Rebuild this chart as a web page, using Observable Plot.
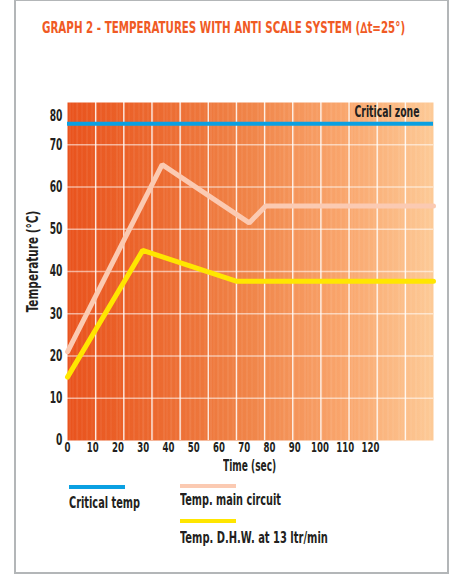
<!DOCTYPE html>
<html>
<head>
<meta charset="utf-8">
<script src="https://cdn.jsdelivr.net/npm/d3@7"></script>
<script src="https://cdn.jsdelivr.net/npm/@observablehq/plot@0.6"></script>
<style>
  html, body { margin: 0; padding: 0; background: #fff; }
  body { width: 453px; height: 574px; position: relative; overflow: hidden;
         font-family: "DejaVu Sans Condensed", "DejaVu Sans", sans-serif; font-weight: bold; }
  #frame { position: absolute; left: 14px; top: -1px; width: 435px; height: 575px; border: 2px solid #b3b6b8; box-sizing: border-box; }
  #chart { position: absolute; left: 0; top: 0; }
  .t { position: absolute; white-space: nowrap; font-size: 15px; color: #231f20; display: inline-block; line-height: 1; }
  #title { color: #f05a24; }
  .sw { position: absolute; width: 56px; height: 4px; }
</style>
</head>
<body>
<div id="frame"></div>
<div id="chart"></div>
<div class="t" id="title" data-x="42" data-y="28" data-w="363">GRAPH 2 - TEMPERATURES WITH ANTI SCALE SYSTEM (∆t=25°)</div>
<div class="t" id="ylab" data-cx="33" data-cy="261" data-w="102" data-rot="1">Temperature (°C)</div>
<div class="t" id="xlab" data-x="223" data-y="466" data-w="53">Time (sec)</div>
<div class="sw" style="left:69px;top:485px;background:#0aa0e2"></div>
<div class="t" data-x="69" data-y="503" data-w="71">Critical temp</div>
<div class="sw" style="left:180px;top:484px;background:#fbcab2"></div>
<div class="t" data-x="180" data-y="500" data-w="101">Temp. main circuit</div>
<div class="sw" style="left:180px;top:519px;background:#ffe600"></div>
<div class="t" data-x="180" data-y="538" data-w="148">Temp. D.H.W. at 13 ltr/min</div>
<script>
// ---- data ----
const timeMain = [0, 37.5, 72, 78.5, 145];
const tempMain = [21, 65.3, 51.5, 55.5, 55.5];
const timeDhw = [0, 29.8, 66.8, 145];
const tempDhw = [15, 45, 37.7, 37.7];
const criticalTemp = 75;
const xTicks = [0, 10, 20, 30, 40, 50, 60, 70, 80, 90, 100, 110, 120];
const yTicks = [0, 10, 20, 30, 40, 50, 60, 70];
const yTopTick = [80];
const xDomain = [0, 145];
const yDomain = [0, 80];

const mainData = timeMain.map((t, i) => ({t, v: tempMain[i]}));
const dhwData = timeDhw.map((t, i) => ({t, v: tempDhw[i]}));
// decorative vertical grid: 13 equal columns across the plot
const gridX = d3.range(1, 13).map(i => i * xDomain[1] / 13);
const gridY = [10, 20, 30, 40, 50, 60, 70];

const font = '"DejaVu Sans Condensed", "DejaVu Sans", sans-serif';

const plot = Plot.plot({
  width: 453,
  height: 480,
  marginTop: 102,
  marginLeft: 67,
  marginRight: 20,
  marginBottom: 40,
  style: {fontFamily: font, fontWeight: "bold", fontSize: "15px", color: "#231f20", background: "transparent", overflow: "visible"},
  x: {domain: xDomain},
  y: {domain: yDomain},
  marks: [
    Plot.frame({fill: "url(#bggrad)", stroke: "none"}),
    Plot.frame({fill: "url(#stripes)", stroke: "none"}),
    Plot.ruleY(gridY, {stroke: "#fff", strokeOpacity: 0.55, strokeWidth: 1.6}),
    Plot.ruleX(gridX, {stroke: "#fff", strokeOpacity: 0.85, strokeWidth: 1.4}),
    Plot.ruleY([criticalTemp], {stroke: "#0aa0e2", strokeWidth: 4}),
    Plot.line(mainData, {x: "t", y: "v", stroke: "#fbcab2", strokeWidth: 5, strokeLinejoin: "miter"}),
    Plot.line(dhwData, {x: "t", y: "v", stroke: "#ffe600", strokeWidth: 5, strokeLinejoin: "miter"}),
    Plot.text(["Critical zone"], {frameAnchor: "top-right", dx: -14, dy: 4, fill: "#231f20", fontSize: 15, fontWeight: "bold"}),
    Plot.axisX({ticks: xTicks, tickSize: 0, tickPadding: 2, fontSize: 14, label: null, tickFormat: d => d}),
    Plot.axisY({ticks: yTicks, tickSize: 0, tickPadding: 5, label: null, tickFormat: d => d}),
    Plot.axisY({ticks: yTopTick, tickSize: 0, tickPadding: 5, label: null, dy: 14, tickFormat: d => d})
  ]
});

const svg = d3.select(plot);
const defs = svg.insert("defs", ":first-child");
const g = defs.append("linearGradient").attr("id", "bggrad").attr("x1", "0").attr("x2", "1").attr("y1", "0").attr("y2", "0");
[[0, "#e9531d"], [0.25, "#ec6a30"], [0.5, "#f08549"], [0.75, "#f9a56c"], [1, "#fdca97"]]
  .forEach(([o, c]) => g.append("stop").attr("offset", o).attr("stop-color", c));
const p = defs.append("pattern").attr("id", "stripes").attr("patternUnits", "userSpaceOnUse")
  .attr("x", 67).attr("y", 0).attr("width", 47).attr("height", 10);
[[2, 1], [5, 0.6], [9, 1.2], [14, 0.7], [19, 1], [24, 0.6], [28, 1.3], [33, 0.8], [38, 1], [43, 0.6]]
  .forEach(([x, w]) => p.append("rect").attr("x", x).attr("y", 0).attr("width", w).attr("height", 10).attr("fill", "#fff").attr("fill-opacity", 0.12));

document.getElementById("chart").appendChild(plot);

// condense SVG texts (narrow bold face of the original)
svg.selectAll("text").each(function () {
  const el = this;
  let s = 0.68;
  if (el.textContent === "Critical zone") s = 65 / el.getComputedTextLength();
  const tr = el.getAttribute("transform");
  if (tr) el.setAttribute("transform", tr + ` scale(${s},1)`);
  else {
    const x = +el.getAttribute("x") || 0, y = +el.getAttribute("y") || 0;
    el.removeAttribute("x"); el.removeAttribute("y");
    el.setAttribute("transform", `translate(${x},${y}) scale(${s},1)`);
  }
});

// fit HTML texts to the widths of the original
document.querySelectorAll(".t").forEach(el => {
  const w = el.offsetWidth, h = el.offsetHeight;
  const s = +el.dataset.w / w;
  if (el.dataset.rot) {
    el.style.left = (+el.dataset.cx - w / 2) + "px";
    el.style.top = (+el.dataset.cy - h / 2) + "px";
    el.style.transformOrigin = "50% 50%";
    el.style.transform = `rotate(-90deg) scale(${s},1)`;
  } else {
    el.style.left = el.dataset.x + "px";
    el.style.top = (+el.dataset.y - h / 2) + "px";
    el.style.transformOrigin = "0 50%";
    el.style.transform = `scale(${s},1)`;
  }
});
</script>
</body>
</html>
